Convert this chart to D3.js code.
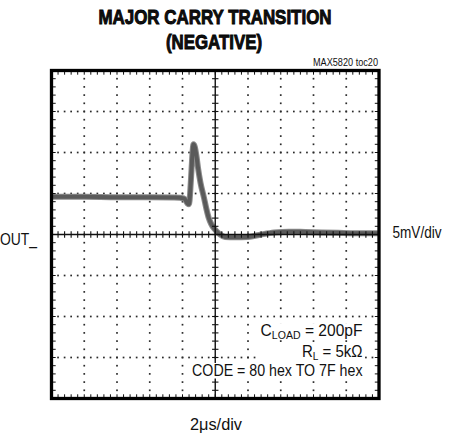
<!DOCTYPE html>
<html>
<head>
<meta charset="utf-8">
<script src="https://cdn.jsdelivr.net/npm/d3@7"></script>
<style>
  html, body { margin: 0; padding: 0; background: #fff; }
  svg { display: block; }
  text { font-family: "Liberation Sans", Arial, sans-serif; fill: #111; }
</style>
</head>
<body>
<svg id="chart" width="451" height="434"></svg>
<script>
// ---- data ----
const titleLines = ["MAJOR CARRY TRANSITION", "(NEGATIVE)"];
const figureTag = "MAX5820 toc20";
const yLabel = "OUT_";
const yScaleLabel = "5mV/div";
const xScaleLabel = "2\u03bcs/div";
// time in microseconds (10 div x 2us), OUT_ in mV (8 div x 5mV, centered)
const timeUs = [0, 2, 4, 6, 7.5, 8.1, 8.3, 8.4, 8.48, 8.55, 8.62, 8.67, 8.75, 8.85, 8.95, 9.1, 9.31, 9.45, 9.59, 9.75, 9.92, 10.1, 10.3, 10.6, 11.2, 12.0, 12.8, 13.6, 14.5, 15.5, 16.5, 17.5, 18.5, 20];
const outMv  = [4.6, 4.6, 4.55, 4.55, 4.5, 4.4, 3.8, 3.7, 5.5, 7.9, 10.2, 11.0, 10.7, 9.6, 8.1, 6.3, 4.5, 3.2, 2.1, 1.3, 0.75, 0.35, 0.0, -0.3, -0.35, -0.3, 0.0, 0.25, 0.35, 0.3, 0.25, 0.2, 0.15, 0.15];
const timeDomain = [0, 20];
const voltDomain = [-20, 20];
const timeMajor = d3.range(0, 20.001, 2);
const voltMajor = d3.range(-20, 20.001, 5);
const timeMinor = d3.range(0, 20.001, 0.4);
const voltMinor = d3.range(-20, 20.001, 1);
const notes = [
  [{t: "C"}, {t: "LOAD", sub: true}, {t: " = 200pF"}],
  [{t: "R"}, {t: "L", sub: true}, {t: " = 5k\u03a9"}],
  [{t: "CODE = 80 hex TO 7F hex"}]
];

// ---- layout ----
const svg = d3.select("#chart");
const X0 = 51.5, X1 = 379, Y0 = 70.5, Y1 = 398.5;
const x = d3.scaleLinear().domain(timeDomain).range([X0, X1]);
const y = d3.scaleLinear().domain(voltDomain).range([Y1, Y0]);
const xc = x(10), yc = y(0);

// dotted grid
const grid = svg.append("g");
const innerT = timeMajor.filter(d => d > 0 && d < 20 && d !== 10);
const innerV = voltMajor.filter(d => d > -20 && d < 20 && d !== 0);
const dots = [];
innerT.forEach(t => voltMinor.forEach(v => { if (v > -20 && v < 20) dots.push([t, v]); }));
innerV.forEach(v => timeMinor.forEach(t => { if (t > 0.01 && t < 19.99) dots.push([t, v]); }));
grid.selectAll("rect").data(dots).join("rect")
  .attr("x", d => x(d[0]) - 0.85).attr("y", d => y(d[1]) - 0.85)
  .attr("width", 1.7).attr("height", 1.7).attr("fill", "#2a2a2a");

// trace
const line = d3.line().x((d, i) => x(timeUs[i])).y((d, i) => y(outMv[i])).curve(d3.curveMonotoneX);
svg.append("path").datum(outMv).attr("d", line)
  .attr("fill", "none").attr("stroke", "#8c8c8c").attr("stroke-width", 6).attr("stroke-linejoin", "round");
svg.append("path").datum(outMv).attr("d", line)
  .attr("fill", "none").attr("stroke", "#5a5a5a").attr("stroke-width", 4).attr("stroke-linejoin", "round");

// center axes
const ax = svg.append("g").attr("stroke", "#111");
ax.append("line").attr("x1", X0).attr("x2", X1).attr("y1", yc).attr("y2", yc).attr("stroke-width", 1.4);
ax.append("line").attr("x1", xc).attr("x2", xc).attr("y1", Y0).attr("y2", Y1).attr("stroke-width", 1.4);
ax.selectAll("line.tx").data(timeMinor.filter(t => t > 0 && t < 20)).join("line")
  .attr("x1", d => x(d)).attr("x2", d => x(d)).attr("y1", yc - 3.2).attr("y2", yc + 3.2).attr("stroke-width", 1.1);
ax.selectAll("line.ty").data(voltMinor.filter(v => v > -20 && v < 20)).join("line")
  .attr("x1", xc - 3.2).attr("x2", xc + 3.2).attr("y1", d => y(d)).attr("y2", d => y(d)).attr("stroke-width", 1.1);

// border ticks
const bt = svg.append("g").attr("stroke", "#111").attr("stroke-width", 1);
const tm = timeMinor.filter(t => t > 0 && t < 20);
const vm = voltMinor.filter(v => v > -20 && v < 20);
bt.selectAll("line.top").data(tm).join("line").attr("x1", d => x(d)).attr("x2", d => x(d)).attr("y1", Y0).attr("y2", Y0 + 4.2);
bt.selectAll("line.bot").data(tm).join("line").attr("x1", d => x(d)).attr("x2", d => x(d)).attr("y1", Y1 - 4.2).attr("y2", Y1);
bt.selectAll("line.lft").data(vm).join("line").attr("y1", d => y(d)).attr("y2", d => y(d)).attr("x1", X0).attr("x2", X0 + 4.2);
bt.selectAll("line.rgt").data(vm).join("line").attr("y1", d => y(d)).attr("y2", d => y(d)).attr("x1", X1 - 4.2).attr("x2", X1);

// frame
svg.append("rect").attr("x", X0).attr("y", Y0).attr("width", X1 - X0).attr("height", Y1 - Y0)
  .attr("fill", "none").attr("stroke", "#000").attr("stroke-width", 3.3);

// notes with white backgrounds (right aligned, condensed)
const noteG = svg.append("g");
const noteBase = [336, 356.5, 375.5];
const noteRight = 362.5;
const noteWidth = [102, 60.6, 171];
const boxes = [];
notes.forEach((parts, i) => {
  const g = noteG.append("g");
  const tx = g.append("text").attr("x", 0).attr("y", 0).attr("text-anchor", "end").attr("font-size", 17);
  let shifted = false;
  parts.forEach(p => {
    const ts = tx.append("tspan").text(p.t);
    if (p.sub) { ts.attr("font-size", 11.5).attr("dy", 3); shifted = true; }
    else if (shifted) { ts.attr("dy", -3); shifted = false; }
  });
  const bb0 = tx.node().getBBox();
  const sx = noteWidth[i] / bb0.width;
  g.attr("transform", `translate(${noteRight},${noteBase[i]}) scale(${sx},1)`);
  boxes.push({g, bb: bb0, sx});
});
// box for each line; the R_L box spans as wide as the C_LOAD line
boxes.forEach((b, i) => {
  let bx = b.bb.x, bw = b.bb.width;
  if (i === 1) { const w = noteWidth[0] / b.sx; bx = -w; bw = w; }
  b.g.insert("rect", "text").attr("x", bx - 1).attr("y", b.bb.y + 2.5).attr("width", bw + 2).attr("height", b.bb.height - 3.5)
    .attr("fill", "#fff");
});

// title
svg.append("text").attr("x", 215).attr("y", 24).attr("text-anchor", "middle")
  .attr("font-size", 20).attr("font-weight", "bold").attr("stroke", "#000").attr("stroke-width", 0.9)
  .attr("textLength", 233).attr("lengthAdjust", "spacingAndGlyphs").text(titleLines[0]);
svg.append("text").attr("x", 214).attr("y", 48.5).attr("text-anchor", "middle")
  .attr("font-size", 20).attr("font-weight", "bold").attr("stroke", "#000").attr("stroke-width", 0.9)
  .attr("textLength", 96).attr("lengthAdjust", "spacingAndGlyphs").text(titleLines[1]);
svg.append("text").attr("x", 378).attr("y", 65.5).attr("text-anchor", "end")
  .attr("font-size", 11).attr("textLength", 65).attr("lengthAdjust", "spacingAndGlyphs").text(figureTag);

// side labels
svg.append("text").attr("x", 0).attr("y", 245).attr("font-size", 17)
  .attr("textLength", 37).attr("lengthAdjust", "spacingAndGlyphs").text(yLabel);
svg.append("text").attr("x", 392.5).attr("y", 237.5).attr("font-size", 16)
  .attr("textLength", 49).attr("lengthAdjust", "spacingAndGlyphs").text(yScaleLabel);
svg.append("text").attr("x", 190).attr("y", 429.5).attr("font-size", 16)
  .attr("textLength", 52).attr("lengthAdjust", "spacingAndGlyphs").text(xScaleLabel);
</script>
</body>
</html>
